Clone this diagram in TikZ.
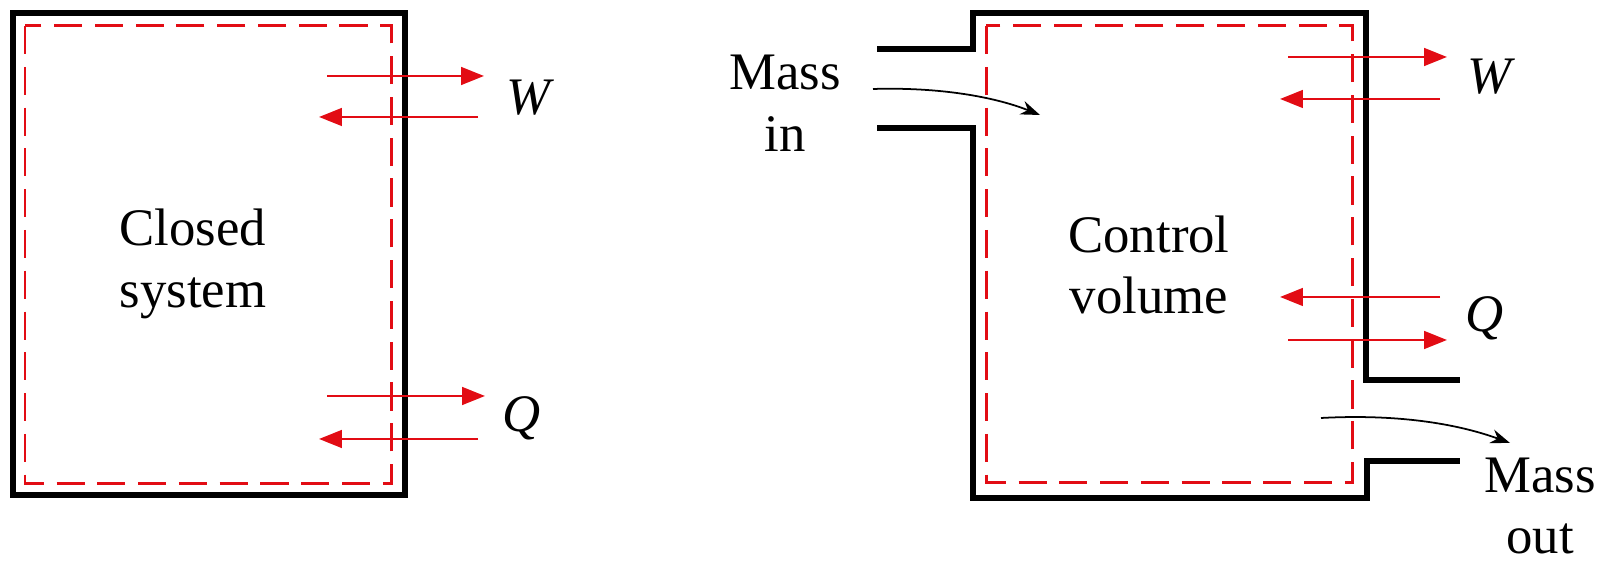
\documentclass[tikz,border=0pt]{standalone}
\usepackage{fontspec}
\setmainfont{Liberation Serif}
\usetikzlibrary{arrows.meta}
\definecolor{flowred}{RGB}{226,12,20}
\tikzset{
  wall/.style={line width=1.9pt, line join=miter, line cap=butt},
  bound/.style={flowred, line width=0.85pt, dash pattern=on 8pt off 3.6pt},
  xfer/.style={flowred, line width=0.75pt, -{Triangle[length=6.5pt,width=5pt]}},
  massflow/.style={black, line width=0.5pt, -{Stealth[length=5.5pt,width=4pt]}},
  lbl/.style={font=\fontsize{15}{17.5}\selectfont, align=center, inner sep=0pt}
}
\begin{document}
\begin{tikzpicture}[x=0.01cm, y=-0.01cm]
    \useasboundingbox (0,0) rectangle (1600,565);

    % Closed system: wall and boundary
    \draw[wall] (13,13) rectangle (405,495);
    \draw[bound] (25,26) rectangle (391,484);
    \node[lbl] (closed) at (193,264) {Closed\\system};

    % Work and heat across the wall
    \draw[xfer] (327,76) -- (484,76);
    \draw[xfer] (478,117) -- (319,117);
    \draw[xfer] (327,396) -- (485,396);
    \draw[xfer] (478,439) -- (319,439);
    \node[lbl] (wleft) at (530,98) {\textit{W}};
    \node[lbl] (qleft) at (522,418) {\textit{Q}};

    % Control volume: walls with inlet and outlet
    \draw[wall] (877,49) -- (973,49) -- (973,13) -- (1366,13) -- (1366,380) -- (1460,380);
    \draw[wall] (877,128) -- (973,128) -- (973,498) -- (1367,498) -- (1367,461) -- (1460,461);
    \draw[bound] (986,26) rectangle (1352,483);
    \node[lbl] (cv) at (1149,265) {Control\\volume};

    % Work and heat for the control volume
    \draw[xfer] (1288,57) -- (1447,57);
    \draw[xfer] (1440,99) -- (1280,99);
    \draw[xfer] (1440,297) -- (1280,297);
    \draw[xfer] (1288,340) -- (1447,340);
    \node[lbl] (wright) at (1491,77) {\textit{W}};
    \node[lbl] (qright) at (1485,318) {\textit{Q}};

    % Mass flow in and out
    \coordinate (in1) at (873,89);
    \coordinate (in2) at (1040,115);
    \coordinate (out1) at (1321,418);
    \coordinate (out2) at (1510,443);
    \draw[massflow] (in1) .. controls (940,87) and (995,97) .. (in2);
    \draw[massflow] (out1) .. controls (1395,414) and (1455,423) .. (out2);
    \node[lbl] (massin) at (785,103) {Mass\\in};
    \node[lbl] (massout) at (1540,506) {Mass\\out};
\end{tikzpicture}
\end{document}
